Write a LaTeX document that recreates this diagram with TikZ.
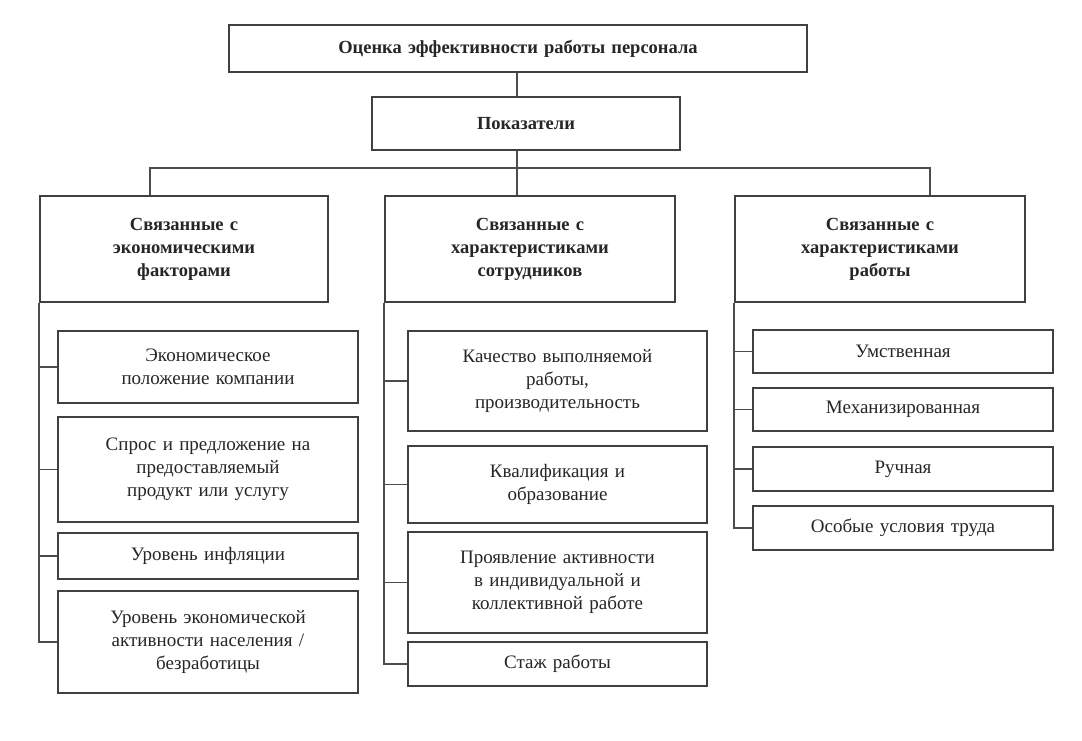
\documentclass[tikz,border=0pt]{standalone}
\usepackage{fontspec}
\setmainfont{Liberation Serif}
\begin{document}
\begin{tikzpicture}[x=1pt,y=-1pt,
  bx/.style={draw=black!75,line width=1.6pt,fill=white,align=center,inner sep=2pt,font=\fontsize{19}{23}\selectfont,text=black!85},
  hd/.style={bx,font=\bfseries\fontsize{18.5}{23}\selectfont},
  ln/.style={draw=black!70,line width=1.5pt}]
\useasboundingbox (0,0) rectangle (1082,740);
\newcommand{\bb}[6]{\node[#1,minimum width=#4-#3,minimum height=#6-#5,text width=#4-#3-12] (#2) at ({(#3+#4)/2},{(#5+#6)/2})}
\bb{hd}{top}{229}{807}{25}{72}{Оценка эффективности работы персонала};
\bb{hd}{pok}{372}{680}{97}{150}{Показатели};
\bb{hd}{c1}{40}{328}{196}{302}{Связанные с\\экономическими\\факторами};
\bb{hd}{c2}{385}{675}{196}{302}{Связанные с\\характеристиками\\сотрудников};
\bb{hd}{c3}{735}{1025}{196}{302}{Связанные с\\характеристиками\\работы};
\coordinate (mx) at (517,0);
\draw[ln] (top.south -| mx) -- (pok.north -| mx);
\coordinate (hl) at (150,168); \coordinate (hr) at (930,168);
\draw[ln] (pok.south -| mx) -- (c2.north -| mx);
\draw[ln] (c1.north -| hl) -- (hl) -- (hr) -- (c3.north -| hr);
% column 1
\bb{bx}{a1}{58}{358}{331}{403}{Экономическое\\положение компании};
\bb{bx}{a2}{58}{358}{417}{522}{Спрос и предложение на\\предоставляемый\\продукт или услугу};
\bb{bx}{a3}{58}{358}{533}{579}{Уровень инфляции};
\bb{bx}{a4}{58}{358}{591}{693}{Уровень экономической\\активности населения /\\безработицы};
\draw[ln] (c1.south west) -- (c1.south west |- a4.west) -- (a4.west);
\foreach \n in {a1,a2,a3} \draw[ln] (c1.south west |- \n.west) -- (\n.west);
% column 2
\bb{bx}{b1}{408}{707}{331}{431}{Качество выполняемой\\работы,\\производительность};
\bb{bx}{b2}{408}{707}{446}{523}{Квалификация и\\образование};
\bb{bx}{b3}{408}{707}{532}{633}{Проявление активности\\в индивидуальной и\\коллективной работе};
\bb{bx}{b4}{408}{707}{642}{686}{Стаж работы};
\draw[ln] (c2.south west) -- (c2.south west |- b4.west) -- (b4.west);
\foreach \n in {b1,b2,b3} \draw[ln] (c2.south west |- \n.west) -- (\n.west);
% column 3
\bb{bx}{d1}{753}{1053}{330}{373}{Умственная};
\bb{bx}{d2}{753}{1053}{388}{431}{Механизированная};
\bb{bx}{d3}{753}{1053}{447}{491}{Ручная};
\bb{bx}{d4}{753}{1053}{506}{550}{Особые условия труда};
\draw[ln] (c3.south west) -- (c3.south west |- d4.west) -- (d4.west);
\foreach \n in {d1,d2,d3} \draw[ln] (c3.south west |- \n.west) -- (\n.west);
\end{tikzpicture}
\end{document}
